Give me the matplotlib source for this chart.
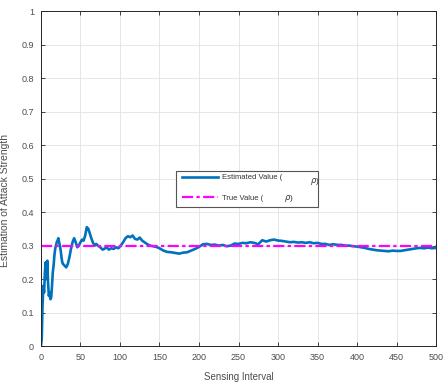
import matplotlib
matplotlib.use("Agg")
import matplotlib.pyplot as plt
from matplotlib.patches import Rectangle

interval = [0, 1, 2, 3, 4, 5, 6, 7, 8, 9, 10, 11, 12, 13, 14, 15, 16, 17, 18, 19, 20,
            21, 22, 23, 24, 25, 26, 27, 28, 30, 32, 34, 36, 38, 40, 42, 44, 46, 48, 50,
            52, 54, 56, 58, 60, 62, 64, 66, 68, 70, 72, 75, 78, 80, 83, 86, 89, 92, 95,
            98, 101, 104, 107, 110, 113, 116, 119, 122, 125, 128, 131, 134, 138, 142,
            146, 150, 155, 160, 165, 170, 175, 180, 185, 190, 195, 200, 205, 210, 215,
            220, 225, 230, 235, 240, 245, 250, 255, 260, 265, 270, 275, 280, 285, 290,
            295, 300, 305, 310, 315, 320, 325, 330, 335, 340, 345, 350, 355, 360, 365,
            370, 375, 380, 385, 390, 395, 400, 405, 410, 415, 420, 425, 430, 435, 440,
            445, 450, 455, 460, 465, 470, 475, 480, 485, 490, 495, 500]
estimated = [0.0, 0.02, 0.12, 0.18, 0.16, 0.22, 0.25, 0.20, 0.255, 0.19, 0.15, 0.16,
             0.14, 0.145, 0.18, 0.22, 0.24, 0.27, 0.29, 0.30, 0.31, 0.315, 0.322, 0.31,
             0.30, 0.285, 0.265, 0.25, 0.245, 0.24, 0.235, 0.245, 0.265, 0.29, 0.31,
             0.322, 0.31, 0.295, 0.30, 0.31, 0.318, 0.315, 0.33, 0.355, 0.35, 0.335,
             0.32, 0.308, 0.30, 0.305, 0.30, 0.295, 0.288, 0.29, 0.295, 0.288, 0.292,
             0.29, 0.295, 0.292, 0.30, 0.31, 0.322, 0.328, 0.325, 0.33, 0.32, 0.318,
             0.324, 0.315, 0.31, 0.305, 0.30, 0.298, 0.296, 0.292, 0.285, 0.281, 0.28,
             0.278, 0.276, 0.279, 0.28, 0.285, 0.29, 0.296, 0.304, 0.305, 0.302, 0.303,
             0.30, 0.302, 0.298, 0.30, 0.306, 0.305, 0.308, 0.307, 0.31, 0.308, 0.304,
             0.316, 0.312, 0.316, 0.318, 0.315, 0.314, 0.312, 0.31, 0.311, 0.309, 0.31,
             0.308, 0.31, 0.307, 0.308, 0.305, 0.305, 0.302, 0.304, 0.302, 0.302, 0.30,
             0.30, 0.298, 0.297, 0.295, 0.293, 0.29, 0.288, 0.286, 0.285, 0.284, 0.283,
             0.285, 0.284, 0.284, 0.286, 0.288, 0.29, 0.292, 0.293, 0.292, 0.294, 0.292,
             0.293]
true_value = 0.3
x_ticks = [0, 50, 100, 150, 200, 250, 300, 350, 400, 450, 500]
y_ticks = [0, 0.1, 0.2, 0.3, 0.4, 0.5, 0.6, 0.7, 0.8, 0.9, 1]
y_tick_labels = ["0", "0.1", "0.2", "0.3", "0.4", "0.5", "0.6", "0.7", "0.8", "0.9", "1"]

plt.rcParams['font.family'] = ['Liberation Sans', 'DejaVu Sans']
txt = '#262626'

fig = plt.figure(figsize=(4.45, 3.82), dpi=100)
ax = fig.add_axes([0.092, 0.094, 0.888, 0.877])

ax.plot(interval, estimated, color='#0072BD', lw=1.9, label='Estimated Value (')
ax.plot([0, 500], [true_value, true_value], color='#FF00FF', lw=1.6,
        linestyle=(0, (5, 1.5, 1.5, 1.5)), label='True Value (')

ax.set_xlim(0, 500)
ax.set_ylim(0, 1)
ax.set_xticks(x_ticks)
ax.set_yticks(y_ticks)
ax.set_yticklabels(y_tick_labels)
ax.tick_params(direction='in', length=3, width=0.6, top=True, right=True,
               labelsize=6.5, labelcolor='#4d4d4d', color=txt, pad=5)
ax.grid(True, color='#e3e3e3', lw=0.6)
ax.set_axisbelow(True)
for s in ax.spines.values():
    s.set_color(txt)
    s.set_linewidth(0.7)

ax.set_xlabel('Sensing Interval', fontsize=7, color='#4d4d4d', labelpad=7)
ax.set_ylabel('Estimation of Attack Strength', fontsize=7.5, color='#4d4d4d')
ax.yaxis.set_label_coords(-0.078, 0.436)

# legend frame
ax.add_patch(Rectangle((0.342, 0.415), 0.359, 0.107, transform=ax.transAxes,
                       facecolor='white', edgecolor='#555555', lw=0.8, zorder=4))
leg = ax.legend(loc='upper left', bbox_to_anchor=(0.357, 0.514), fontsize=5.5,
                frameon=False, handlelength=4.7, borderpad=0.0,
                labelspacing=1.75, handletextpad=0.5, borderaxespad=0)
leg.set_zorder(5)
for t in leg.get_texts():
    t.set_color('#333333')
ax.text(0.680, 0.492, r'$\rho$)', transform=ax.transAxes, fontsize=6, color='#333333',
        va='center', ha='left', zorder=6)
ax.text(0.614, 0.442, r'$\rho$)', transform=ax.transAxes, fontsize=6, color='#333333',
        va='center', ha='left', zorder=6)

fig.savefig('out.png', dpi=100)
